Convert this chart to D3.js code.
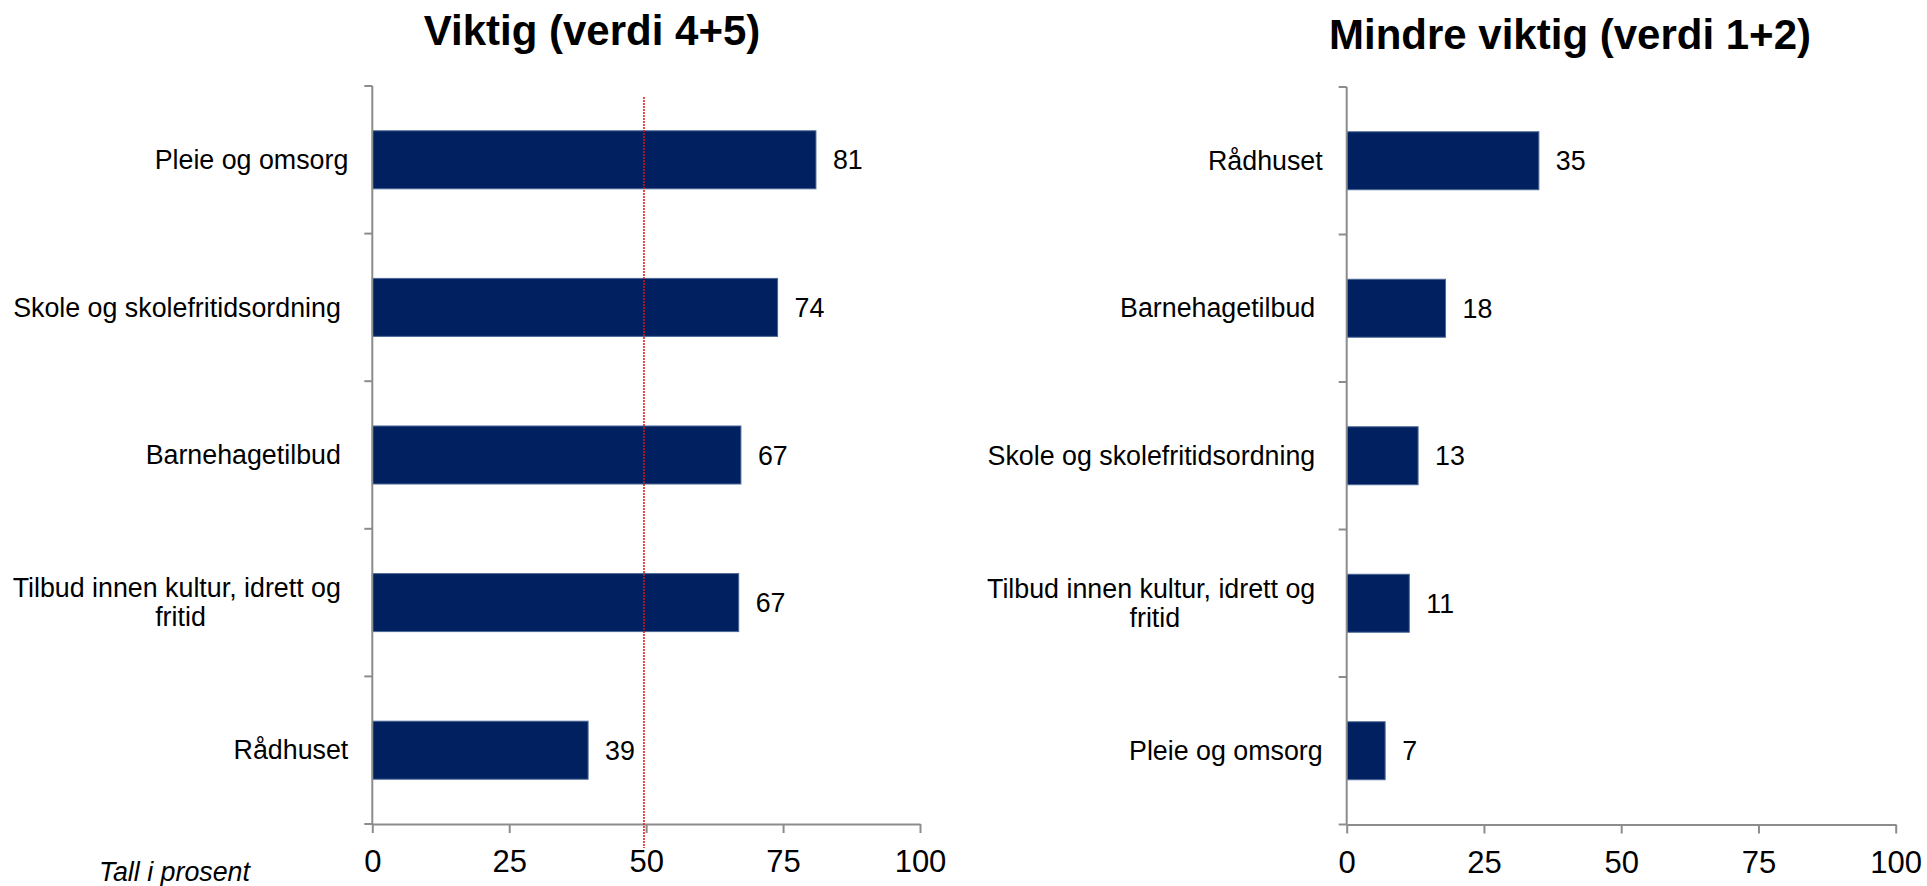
<!DOCTYPE html>
<html>
<head>
<meta charset="utf-8">
<script src="https://cdn.jsdelivr.net/npm/d3@7"></script>
<style>
  html, body { margin: 0; padding: 0; background: #fff; }
  svg { display: block; font-family: 'Liberation Sans', Arial, sans-serif; }
  .cat-label { white-space: pre; }
</style>
</head>
<body>
<svg id="chart" width="1927" height="886"></svg>
<script>
// Viktig (verdi 4+5)
const viktigTitle = 'Viktig (verdi 4+5)'
const viktigCategories = ['Pleie og omsorg', 'Skole og skolefritidsordning ', 'Barnehagetilbud ', 'Tilbud innen kultur, idrett og fritid', 'Rådhuset']
const viktigValues = [81, 74, 67.3, 66.9, 39.4]

// Mindre viktig (verdi 1+2)
const mindreTitle = 'Mindre viktig (verdi 1+2)'
const mindreCategories = ['Rådhuset', 'Barnehagetilbud ', 'Skole og skolefritidsordning ', 'Tilbud innen kultur, idrett og fritid', 'Pleie og omsorg']
const mindreValues = [35, 18, 13, 11.4, 7]

const xTicks = [0, 25, 50, 75, 100]
const referenceValue = 49.6 // red dotted line in the left chart
const footnote = 'Tall i prosent'

const BAR_COLOR = '#002060'
const AXIS_COLOR = '#8c8c8c'
const LABEL_SIZE = 26.8

const svg = d3.select('#chart')

/**
 * Wraps a label in lines no wider than maxWidth, centred on the widest line
 *
 * @param {*} text The text selection
 * @param {number} maxWidth Max width of a line in px
 */
function wrapLabel (text, maxWidth) {
  text.each(function () {
    const t = d3.select(this)
    const words = t.text().split(/(?<= )/)
    const x = +t.attr('x')
    t.text(null)
    const lines = []
    let line = ''
    const probe = t.append('tspan')
    words.forEach((w) => {
      probe.text(line + w)
      if (line !== '' && probe.node().getComputedTextLength() > maxWidth) {
        lines.push(line)
        line = w
      } else {
        line += w
      }
    })
    lines.push(line)
    probe.remove()
    if (lines.length === 1) {
      t.append('tspan').attr('x', x).attr('dy', '0.34em').text(lines[0])
      return
    }
    // multi-line labels: centre every line on the widest one
    const widths = lines.map((l) => {
      const s = t.append('tspan').text(l)
      const w = s.node().getComputedTextLength()
      s.remove()
      return w
    })
    const widest = Math.max(...widths)
    const lineH = 29.5
    lines.forEach((l, i) => {
      t.append('tspan')
        .attr('x', x - widest / 2)
        .attr('text-anchor', 'middle')
        .attr('dy', i === 0 ? (0.34 * LABEL_SIZE - lineH * (lines.length - 1) / 2) + 'px' : lineH + 'px')
        .text(l)
    })
  })
}

/**
 * Draws one horizontal bar chart
 *
 * @param {object} opt Placement and data of the panel
 */
function drawPanel (opt) {
  const g = svg.append('g')
  const x = d3.scaleLinear().domain([0, 100]).range([opt.x0, opt.x1])
  const y = d3.scaleBand().domain(opt.categories).range([opt.top, opt.bottom])
  const barH = y.bandwidth() * 0.393

  // title
  g.append('text')
    .attr('x', opt.titleX)
    .attr('y', opt.titleY)
    .attr('text-anchor', 'middle')
    .attr('font-size', 42)
    .attr('font-weight', 'bold')
    .text(opt.title)

  // bars
  g.selectAll('rect.bar')
    .data(opt.values)
    .join('rect')
    .attr('class', 'bar')
    .attr('x', x(0))
    .attr('y', (d, i) => y(opt.categories[i]) + (y.bandwidth() - barH) / 2)
    .attr('width', (d) => x(d) - x(0))
    .attr('height', barH)
    .attr('fill', BAR_COLOR)
    .attr('stroke', '#4a6796')
    .attr('stroke-width', 1)

  // value labels
  g.selectAll('text.value')
    .data(opt.values)
    .join('text')
    .attr('class', 'value')
    .attr('x', (d) => x(d) + 17)
    .attr('y', (d, i) => y(opt.categories[i]) + y.bandwidth() / 2)
    .attr('dy', '0.36em')
    .attr('font-size', LABEL_SIZE)
    .text((d) => Math.round(d))

  // x axis
  const xAxis = g.append('g')
    .attr('transform', 'translate(0,' + opt.bottom + ')')
    .call(d3.axisBottom(x).tickValues(xTicks).tickSize(9).tickSizeOuter(0).tickPadding(17))
  xAxis.select('.domain').attr('stroke', AXIS_COLOR).attr('stroke-width', 2)
  xAxis.selectAll('.tick line').attr('stroke', AXIS_COLOR).attr('stroke-width', 2)
  xAxis.selectAll('.tick text')
    .attr('font-size', 31)
    .attr('font-family', "'Liberation Sans', Arial, sans-serif")
    .attr('fill', '#000')

  // y axis: line + ticks on the category boundaries
  g.append('line')
    .attr('x1', x(0)).attr('x2', x(0))
    .attr('y1', opt.top).attr('y2', opt.bottom)
    .attr('stroke', AXIS_COLOR).attr('stroke-width', 2)
  const bounds = opt.categories.map((c) => y(c)).concat([opt.bottom])
  g.selectAll('line.ytick')
    .data(bounds)
    .join('line')
    .attr('class', 'ytick')
    .attr('x1', x(0) - 8).attr('x2', x(0))
    .attr('y1', (d) => d).attr('y2', (d) => d)
    .attr('stroke', AXIS_COLOR).attr('stroke-width', 2)

  // category labels
  g.selectAll('text.cat-label')
    .data(opt.categories)
    .join('text')
    .attr('class', 'cat-label')
    .attr('x', x(0) - 24)
    .attr('y', (d) => y(d) + y.bandwidth() / 2)
    .attr('text-anchor', 'end')
    .attr('font-size', LABEL_SIZE)
    .text((d) => d)
    .call(wrapLabel, 350)

  return x
}

const xLeft = drawPanel({
  title: viktigTitle,
  categories: viktigCategories,
  values: viktigValues,
  x0: 372.3,
  x1: 920,
  top: 86,
  bottom: 824,
  titleX: 592,
  titleY: 44.5
})

drawPanel({
  title: mindreTitle,
  categories: mindreCategories,
  values: mindreValues,
  x0: 1346.7,
  x1: 1895.7,
  top: 87,
  bottom: 824.5,
  titleX: 1570,
  titleY: 48.5
})

// reference line at ~50 in the left chart
svg.append('line')
  .attr('x1', xLeft(referenceValue)).attr('x2', xLeft(referenceValue))
  .attr('y1', 97).attr('y2', 848)
  .attr('stroke', '#e01010')
  .attr('stroke-width', 1.5)
  .attr('stroke-dasharray', '2,1')

svg.append('text')
  .attr('x', 99)
  .attr('y', 881)
  .attr('font-size', LABEL_SIZE)
  .attr('font-style', 'italic')
  .text(footnote)
</script>
</body>
</html>
